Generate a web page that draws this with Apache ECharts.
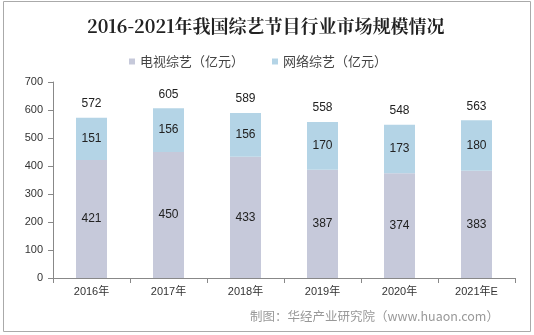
<!DOCTYPE html>
<html>
<head>
<meta charset="utf-8">
<script src="https://cdn.jsdelivr.net/npm/echarts@6/dist/echarts.min.js"></script>
<style>
  html, body { margin: 0; padding: 0; background: #fff; }
  #chart { width: 534px; height: 335px; }
</style>
</head>
<body>
<div id="chart"></div>
<script>
// Market size of China's variety-show programmes, 2016-2021 (亿元)
const years = ['2016年', '2017年', '2018年', '2019年', '2020年', '2021年E'];
const tvShows = [421, 450, 433, 387, 374, 383];
const webShows = [151, 156, 156, 170, 173, 180];
const totals = [572, 605, 589, 558, 548, 563];
const yTicks = [0, 100, 200, 300, 400, 500, 600, 700];

const FONT = '"Liberation Sans", Arial, "Noto Sans CJK SC", sans-serif';

const chart = echarts.init(document.getElementById('chart'));
chart.setOption({
  animation: false,
  backgroundColor: '#fff',
  title: {
    text: '2016-2021年我国综艺节目行业市场规模情况',
    left: 82,
    top: 12,
    textStyle: { fontFamily: '"Noto Serif CJK SC", "Noto Sans CJK SC", serif', fontSize: 18, fontWeight: 'bold', color: '#222' }
  },
  legend: {
    top: 50,
    left: 124,
    itemWidth: 6,
    itemHeight: 6,
    itemGap: 28,
    icon: 'rect',
    textStyle: { fontFamily: '"Noto Sans CJK SC", sans-serif', fontSize: 13, color: '#444' },
    data: ['电视综艺（亿元）', '网络综艺（亿元）']
  },
  grid: { left: 53, right: 19, top: 82, bottom: 57, containLabel: false },
  xAxis: {
    type: 'category',
    data: years,
    axisLine: { lineStyle: { color: '#888' } },
    axisTick: { show: true, lineStyle: { color: '#888' } },
    axisLabel: { fontFamily: FONT, fontSize: 11, color: '#333', margin: 8 }
  },
  yAxis: {
    type: 'value',
    min: yTicks[0],
    max: yTicks[yTicks.length - 1],
    interval: 100,
    splitLine: { show: false },
    axisLine: { show: true, lineStyle: { color: '#888' } },
    axisTick: { show: true, lineStyle: { color: '#888' } },
    axisLabel: { fontFamily: FONT, fontSize: 11, color: '#333', margin: 10 }
  },
  series: [
    {
      name: '电视综艺（亿元）',
      type: 'bar',
      stack: 'total',
      barWidth: 31,
      data: tvShows,
      itemStyle: { color: '#c6c9da' },
      label: { show: true, position: 'inside', fontFamily: FONT, fontSize: 12, color: '#222' }
    },
    {
      name: '网络综艺（亿元）',
      type: 'bar',
      stack: 'total',
      barWidth: 31,
      data: webShows,
      itemStyle: { color: '#b4d4e6' },
      label: { show: true, position: 'inside', fontFamily: FONT, fontSize: 12, color: '#222' }
    },
    {
      name: '合计',
      type: 'bar',
      stack: 'total',
      barWidth: 31,
      data: totals.map(() => 0),
      itemStyle: { color: 'transparent' },
      label: {
        show: true,
        position: 'top',
        distance: 8,
        fontFamily: FONT,
        fontSize: 12,
        color: '#222',
        formatter: p => totals[p.dataIndex]
      }
    }
  ],
  graphic: [
    {
      type: 'rect',
      shape: { x: 3.5, y: 1.5, width: 527, height: 330 },
      style: { fill: 'none', stroke: '#aaa', lineWidth: 1 },
      silent: true
    },
    {
      type: 'text',
      left: 250,
      top: 310,
      style: {
        text: '制图：华经产业研究院（www.huaon.com）',
        fontFamily: '"Noto Sans CJK SC", sans-serif',
        fontSize: 12.5,
        fill: '#999'
      }
    }
  ]
});
</script>
</body>
</html>
